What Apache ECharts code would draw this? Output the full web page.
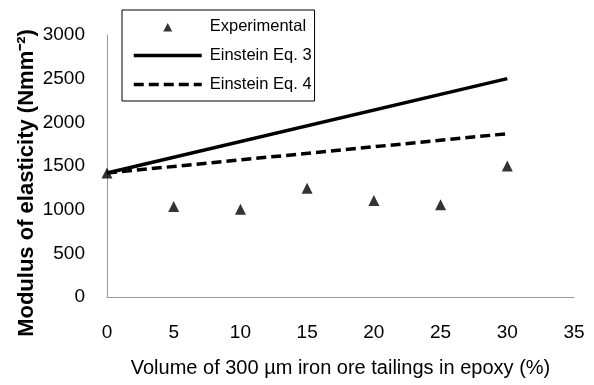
<!DOCTYPE html>
<html>
<head>
<meta charset="utf-8">
<script src="https://cdn.jsdelivr.net/npm/echarts@6/dist/echarts.min.js"></script>
<style>
  html, body { margin: 0; padding: 0; background: #fff; }
  #chart { width: 594px; height: 385px; }
</style>
</head>
<body>
<div id="chart"></div>
<script>
// volume fraction of tailings (%)
var volume = [0, 5, 10, 15, 20, 25, 30];
// measured modulus (N mm^-2)
var experimental = [1420, 1035, 1005, 1245, 1105, 1055, 1500];
// model lines, read at the two ends
var modelVolume = [0, 30];
var einstein3 = [1420, 2500];
var einstein4 = [1420, 1870];
var yTicks = [0, 500, 1000, 1500, 2000, 2500, 3000];

var fontFam = '"Liberation Sans", Arial, sans-serif';

function pairs(xs, ys) {
  return xs.map(function (x, i) { return [x, ys[i]]; });
}

// small triangle inside a wider empty box, so the legend keeps it small
var legendTriangle = 'path://M7,3.5L11.5,12L2.5,12Z M0,0L0.01,0 M14,14L14.01,14';

var myChart = echarts.init(document.getElementById('chart'));
var option = {
  animation: false,
  textStyle: { fontFamily: fontFam },
  grid: { left: 107, right: 20, top: 35, bottom: 88 },
  legend: {
    orient: 'vertical',
    left: 122,
    top: 10,
    padding: [8, 3, 8, 10],
    itemWidth: 68,
    itemHeight: 14,
    itemGap: 12,
    borderColor: '#000',
    borderWidth: 1,
    lineStyle: { width: 3.5 },
    textStyle: { fontSize: 16.5, color: '#000', fontFamily: fontFam, padding: [0, 0, 0, 3] },
    data: [
      { name: 'Experimental', icon: legendTriangle },
      { name: 'Einstein Eq. 3', itemStyle: { opacity: 0 } },
      { name: 'Einstein Eq. 4', itemStyle: { opacity: 0 } }
    ]
  },
  xAxis: {
    type: 'value',
    min: 0,
    max: 35,
    interval: 5,
    name: 'Volume of 300 µm iron ore tailings in epoxy (%)',
    nameLocation: 'middle',
    nameGap: 61,
    nameTextStyle: { fontSize: 20, color: '#000' },
    axisLine: { lineStyle: { color: '#999', width: 1 } },
    axisTick: { show: false },
    axisLabel: { fontSize: 19, color: '#000', margin: 26 },
    splitLine: { show: false }
  },
  yAxis: {
    type: 'value',
    min: yTicks[0],
    max: yTicks[yTicks.length - 1],
    interval: 500,
    name: 'Modulus of elasticity (Nmm⁻²)',
    nameLocation: 'middle',
    nameGap: 69,
    nameMoveOverlap: false,
    nameTextStyle: { fontSize: 22, fontWeight: 'bold', color: '#000', padding: [0, 34, 0, 0] },
    axisLine: { show: true, lineStyle: { color: '#999', width: 1 } },
    axisTick: { show: false },
    axisLabel: {
      fontSize: 19,
      color: '#000',
      margin: 22,
      formatter: function (v) { return String(v); }
    },
    splitLine: { show: false }
  },
  series: [
    {
      name: 'Experimental',
      type: 'scatter',
      symbol: 'triangle',
      symbolSize: [11, 11],
      itemStyle: { color: '#000' },
      data: pairs(volume, experimental),
      z: 3
    },
    {
      name: 'Einstein Eq. 3',
      type: 'line',
      symbol: 'none',
      lineStyle: { color: '#000', width: 3.5, type: 'solid' },
      itemStyle: { color: '#000' },
      data: pairs(modelVolume, einstein3)
    },
    {
      name: 'Einstein Eq. 4',
      type: 'line',
      symbol: 'none',
      lineStyle: { color: '#000', width: 3.5, type: [10, 5] },
      itemStyle: { color: '#000' },
      data: pairs(modelVolume, einstein4)
    }
  ]
};
myChart.setOption(option);
</script>
</body>
</html>
